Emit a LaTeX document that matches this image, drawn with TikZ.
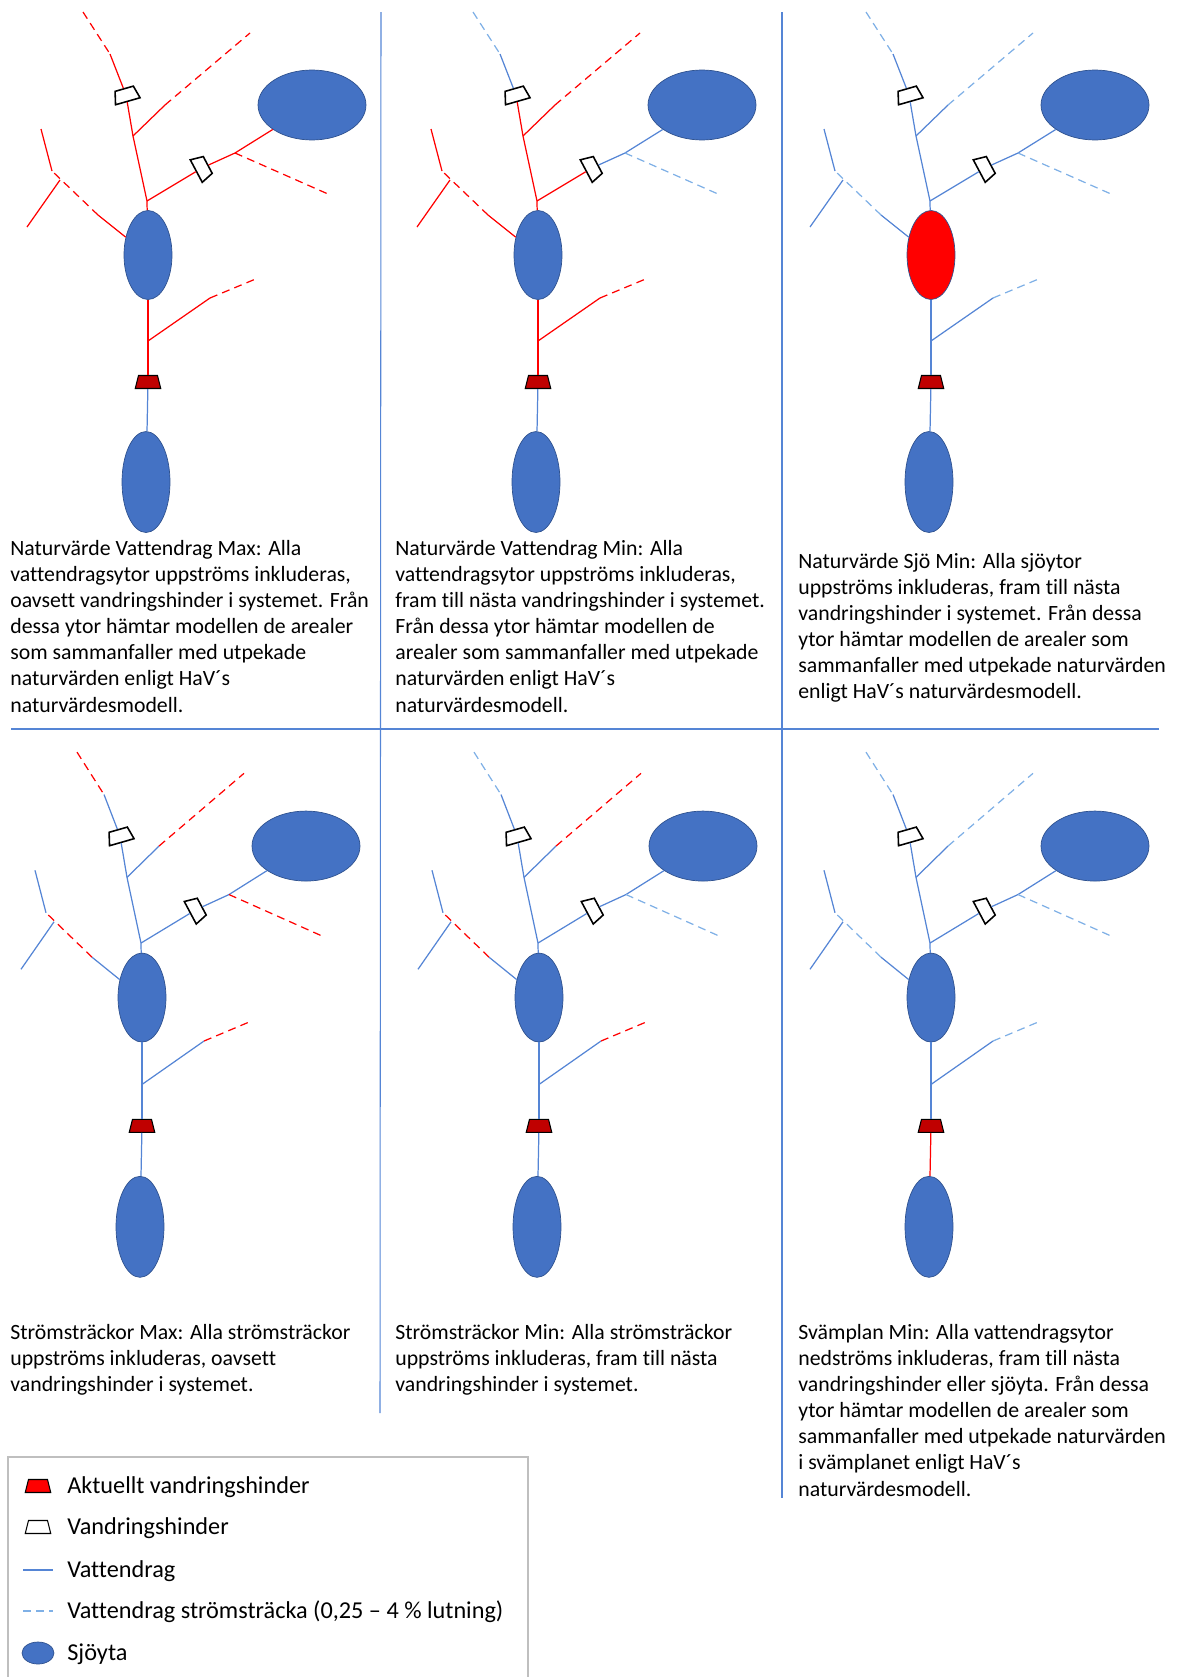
\documentclass[tikz,border=0pt]{standalone}
\usepackage{fontspec}
\setmainfont[Ligatures=NoCommon]{Carlito}
\usetikzlibrary{shapes.geometric,positioning}
\definecolor{sjoblue}{HTML}{4472C4}
\definecolor{sjoedge}{HTML}{2F528F}
\definecolor{vblue}{HTML}{5585D5}
\definecolor{lblue}{HTML}{7FB0E6}
\definecolor{hred}{HTML}{C00000}
\definecolor{ramgra}{HTML}{BFBFBF}
\tikzset{x=0.02cm, y=-0.02cm,
  vatten/.style={draw=vblue, line width=0.7pt},
  stroem/.style={draw=lblue, line width=0.7pt, dash pattern=on 4.5pt off 3pt},
  rod/.style={draw=red, line width=0.7pt},
  roddash/.style={draw=red, line width=0.7pt, dash pattern=on 4.5pt off 3pt},
  sjo/.style={ellipse, draw=sjoedge, line width=0.4pt, fill=sjoblue, inner sep=0.5pt},
  hinder/.style={trapezium, trapezium angle=76, draw=black, line width=0.9pt, fill=white, inner xsep=0.19cm, inner ysep=0.13cm},
  akt/.style={hinder, fill=hred, line width=0.6pt},
  beskr/.style={anchor=north west, inner sep=0pt, align=left, font=\fontsize{12.4}{14.85}\selectfont},
  legtext/.style={anchor=west, inner sep=0pt, font=\fontsize{13.8}{16}\selectfont},
  % segment styles, blue unless a panel says otherwise
  spets/.style={stroem}, ovre/.style={vatten}, stam/.style={vatten},
  bstrom/.style={stroem}, hoger/.style={vatten}, hstrom/.style={stroem},
  vstrom/.style={stroem}, dstrom/.style={stroem}, nedre/.style={vatten},
  mittfarg/.style={fill=sjoblue}}

% one river system
\newcommand{\natverk}{%
  \coordinate (t0) at (83,12);
  \coordinate (t1) at (110,54);
  \node [hinder, rotate=16] (o1) at (126,95) {};
  \coordinate (j1) at (133,136);
  \coordinate (b1) at (165,105);
  \coordinate (b2) at (250,33);
  \coordinate (j2) at (147,201);
  \node [sjo, minimum width=2.16cm, minimum height=1.4cm] (nesjo) at (312,105) {};
  \node [hinder, rotate=-62] (o2) at (202,168) {};
  \coordinate (j3) at (235,153);
  \coordinate (r2) at (328,194);
  \node [sjo, mittfarg, minimum width=0.96cm, minimum height=1.78cm] (mittsjo) at (148,255) {};
  \coordinate (l1) at (98,215);
  \coordinate (l2) at (52,171);
  \coordinate (l3) at (41,129);
  \coordinate (l4) at (60,180);
  \coordinate (l5) at (27,227);
  \coordinate (j4) at (148,341);
  \coordinate (d1) at (210,298);
  \coordinate (d2) at (258,278);
  \node [akt] (o3) at (148,382) {};
  \node [sjo, minimum width=0.96cm, minimum height=2.02cm] (lagsjo) at (146,482) {};
  \draw [spets] (t0) -- (t1);
  \draw [ovre] (t1) -- (o1);
  \draw [stam] (o1) -- (j1) -- (j2) -- (mittsjo);
  \draw [stam] (j1) -- (b1);
  \draw [bstrom] (b1) -- (b2);
  \draw [stam] (j2) -- (o2);
  \draw [hoger] (o2) -- (j3) -- (nesjo);
  \draw [hstrom] (j3) -- (r2);
  \draw [stam] (mittsjo) -- (l1);
  \draw [vstrom] (l1) -- (l2);
  \draw [stam] (l2) -- (l3);
  \draw [stam] (l4) -- (l5);
  \draw [stam] (mittsjo) -- (j4) -- (o3);
  \draw [stam] (j4) -- (d1);
  \draw [dstrom] (d1) -- (d2);
  \draw [nedre] (o3) -- (lagsjo);
}

\begin{document}
\begin{tikzpicture}
  \useasboundingbox (0,0) rectangle (1178,1677);

  % panel frames
  \draw [vatten, line width=0.6pt] (381,12) -- (380,1413);
  \draw [vatten, line width=0.6pt] (782,12) -- (782,1498);
  \draw [vatten, line width=0.6pt] (11,729) -- (1159,729);

  % top row
  \begin{scope}[spets/.style={roddash}, ovre/.style={rod}, stam/.style={rod}, bstrom/.style={roddash},
      hoger/.style={rod}, hstrom/.style={roddash}, vstrom/.style={roddash}, dstrom/.style={roddash}]
    \natverk
  \end{scope}
  \begin{scope}[shift={(390,0)}, stam/.style={rod}, bstrom/.style={roddash}, vstrom/.style={roddash}, dstrom/.style={roddash}]
    \natverk
  \end{scope}
  \begin{scope}[shift={(783,0)}, mittfarg/.style={fill=red}]
    \natverk
  \end{scope}

  % bottom row
  \begin{scope}[shift={(-6,740)}, yscale=1.01, spets/.style={roddash}, bstrom/.style={roddash},
      hstrom/.style={roddash}, vstrom/.style={roddash}, dstrom/.style={roddash}]
    \natverk
  \end{scope}
  \begin{scope}[shift={(391,740)}, yscale=1.01, bstrom/.style={roddash}, vstrom/.style={roddash}, dstrom/.style={roddash}]
    \natverk
  \end{scope}
  \begin{scope}[shift={(783,740)}, yscale=1.01, nedre/.style={rod}]
    \natverk
  \end{scope}

  % descriptions
  \node [beskr] (txtvmax) at (10,540) {Naturvärde Vattendrag Max: Alla\\vattendragsytor uppströms inkluderas,\\oavsett vandringshinder i systemet. Från\\dessa ytor hämtar modellen de arealer\\som sammanfaller med utpekade\\naturvärden enligt HaV´s\\naturvärdesmodell.};
  \node [beskr] (txtvmin) at (395,540) {Naturvärde Vattendrag Min: Alla\\vattendragsytor uppströms inkluderas,\\fram till nästa vandringshinder i systemet.\\Från dessa ytor hämtar modellen de\\arealer som sammanfaller med utpekade\\naturvärden enligt HaV´s\\naturvärdesmodell.};
  \node [beskr] (txtsjo) at (798,553) {Naturvärde Sjö Min: Alla sjöytor\\uppströms inkluderas, fram till nästa\\vandringshinder i systemet. Från dessa\\ytor hämtar modellen de arealer som\\sammanfaller med utpekade naturvärden\\enligt HaV´s naturvärdesmodell.};
  \node [beskr] (txtsmax) at (10,1324) {Strömsträckor Max: Alla strömsträckor\\uppströms inkluderas, oavsett\\vandringshinder i systemet.};
  \node [beskr] (txtsmin) at (395,1324) {Strömsträckor Min: Alla strömsträckor\\uppströms inkluderas, fram till nästa\\vandringshinder i systemet.};
  \node [beskr] (txtsvam) at (798,1324) {Svämplan Min: Alla vattendragsytor\\nedströms inkluderas, fram till nästa\\vandringshinder eller sjöyta. Från dessa\\ytor hämtar modellen de arealer som\\sammanfaller med utpekade naturvärden\\i svämplanet enligt HaV´s\\naturvärdesmodell.};

  % legend
  \draw [ramgra, line width=0.6pt] (8,1677) |- (528,1457) -- (528,1677);
  \node [akt, fill=red] (lgakt) at (38,1486) {};
  \node [legtext] (lgakttxt) at (67,1487) {Aktuellt vandringshinder};
  \node [hinder, line width=0.6pt] (lghin) at (38,1527) {};
  \node [legtext] (lghintxt) at (67,1528) {Vandringshinder};
  \coordinate (lgv1) at (23,1570);
  \coordinate (lgv2) at (53,1570);
  \draw [vatten] (lgv1) -- (lgv2);
  \node [legtext] (lgvtxt) at (67,1571) {Vattendrag};
  \coordinate (lgs1) at (23,1611);
  \coordinate (lgs2) at (53,1611);
  \draw [stroem] (lgs1) -- (lgs2);
  \node [legtext] (lgstxt) at (67,1612) {Vattendrag strömsträcka (0,25 – 4 \% lutning)};
  \node [sjo, minimum width=0.64cm, minimum height=0.44cm] (lgsjo) at (38,1653) {};
  \node [legtext] (lgsjotxt) at (67,1654) {Sjöyta};
\end{tikzpicture}
\end{document}
